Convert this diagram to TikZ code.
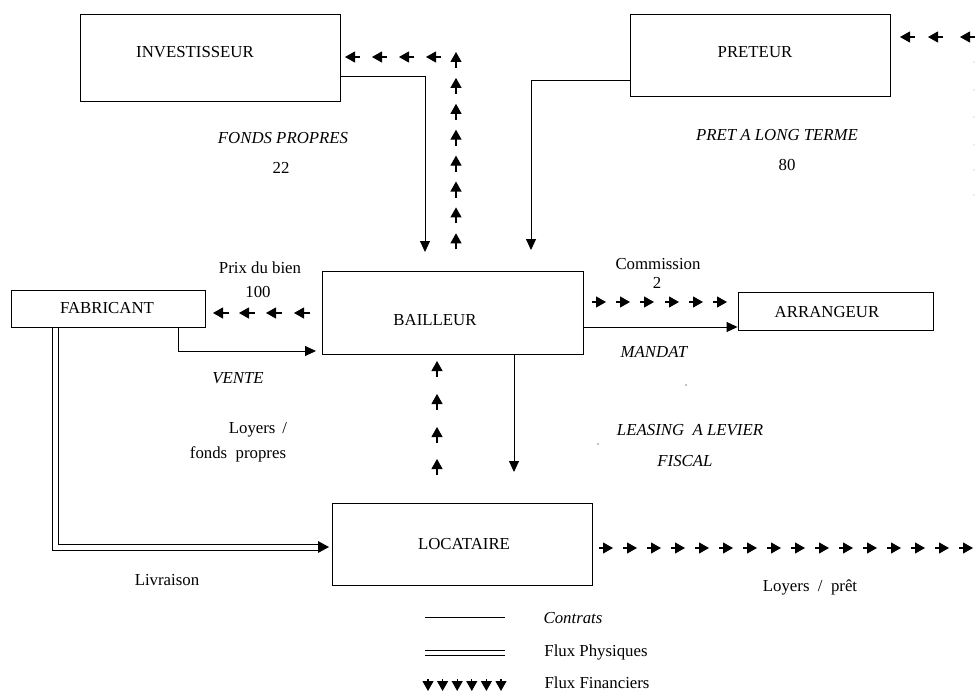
\documentclass[tikz,border=0pt]{standalone}
\usepackage{fontspec}
\setmainfont{Liberation Serif}
\usetikzlibrary{arrows.meta}
\begin{document}
\begin{tikzpicture}[x=1pt,y=-1pt,
  box/.style={draw,line width=0.9pt,inner sep=0pt},
  contract/.style={line width=0.9pt,-{Triangle[length=11pt,width=10pt]}},
  fin/.style={line width=1.1pt,-{Triangle[length=10pt,width=11pt]}},
  lbl/.style={inner sep=0pt,font=\fontsize{16.8}{19}\selectfont},
  ilbl/.style={lbl,font=\fontsize{16.8}{19}\selectfont\itshape}]
\useasboundingbox (0,0) rectangle (975,693);
% boxes
\node[box,minimum width=260pt,minimum height=87pt] (inv) at (210,57.5) {};
\node[box,minimum width=260pt,minimum height=82pt] (pret) at (760,55) {};
\node[box,minimum width=194pt,minimum height=37pt] (fab) at (108,308.5) {};
\node[box,minimum width=261pt,minimum height=83pt] (bail) at (452.5,312.5) {};
\node[box,minimum width=195pt,minimum height=38pt] (arr) at (835.5,311) {};
\node[box,minimum width=260pt,minimum height=82pt] (loc) at (462,544) {};
% box labels
\node[lbl] (tinv) at (195,52) {INVESTISSEUR};
\node[lbl] (tpret) at (755,52) {PRETEUR};
\node[lbl] (tfab) at (107,308) {FABRICANT};
\node[lbl] (tbail) at (435,320) {BAILLEUR};
\node[lbl] (tarr) at (827,312) {ARRANGEUR};
\node[lbl] (tloc) at (464,544) {LOCATAIRE};
% other labels
\node[ilbl] (l1) at (283,138) {FONDS PROPRES};
\node[lbl] (l2) at (281,168) {22};
\node[ilbl] (l3) at (777,135) {PRET A LONG TERME};
\node[lbl] (l4) at (787,165) {80};
\node[lbl] (l5) at (260,268) {Prix du bien};
\node[lbl] (l6) at (258,292) {100};
\node[lbl] (l7) at (658,264) {Commission};
\node[lbl] (l8) at (657,283) {2};
\node[ilbl] (l9) at (654,352) {MANDAT};
\node[ilbl] (l10) at (238,378) {VENTE};
\node[lbl] (l11) at (258,430) {Loyers \,/};
\node[lbl] (l12) at (238,454) {fonds \ propres};
\node[ilbl] (l13) at (690,430) {LEASING \ A LEVIER};
\node[ilbl] (l14) at (685,461) {FISCAL};
\node[lbl] (l15) at (167,580) {Livraison};
\node[lbl] (l16) at (810,587) {Loyers \ / \ prêt};
\node[ilbl] (g1) at (573,618) {Contrats};
\node[lbl] (g2) at (596,652) {Flux Physiques};
\node[lbl] (g3) at (597,683) {Flux Financiers};
% contracts
\coordinate (cinv) at (425,252);
\draw[contract] (inv.east |- 0,76) -| (cinv);
\coordinate (cpret) at (531,250);
\draw[contract] (pret.west |- 0,80) -| (cpret);
\coordinate (cvente) at (316,351);
\draw[contract] (fab.south -| 178,0) |- (cvente);
\draw[contract] (bail.east |- 0,327) -- (arr.west |- 0,327);
\coordinate (cloc) at (514,472);
\draw[contract] (bail.south -| 514,0) -- (cloc);
% physical flow
\draw[line width=0.8pt] (fab.south -| 52,0) -- (52,550) -- (320,550);
\draw[line width=0.8pt] (fab.south -| 58,0) -- (58,544) -- (320,544);
\fill (329,547) -- (318,541) -- (318,553) -- cycle;
% financial flows
\foreach \k in {0,...,7} \draw[fin] (456,{52+25.9*\k+16}) -- (456,{52+25.9*\k});
\foreach \t in {345,372,399,426} \draw[fin] (\t+15,57) -- (\t,57);
\foreach \t in {900,928,960} \draw[fin] (\t+15,37) -- (\t,37);
\foreach \t in {213,239,266,294} \draw[fin] (\t+16,313) -- (\t,313);
\foreach \t in {606,630,654,679,703,727} \draw[fin] (\t-14,302) -- (\t,302);
\foreach \t in {361,394,427,459} \draw[fin] (437,\t+16) -- (437,\t);
\foreach \k in {0,...,15} \draw[fin] ({613+24*\k-14},548) -- ({613+24*\k},548);
\foreach \y in {62,90,117,145,170,195} \fill[gray!60] (974,\y) circle (0.6);
\fill (686,385) circle (0.6);
\fill (598,444) circle (0.6);
% legend
\draw[line width=0.8pt] (425,617) -- (505,617);
\draw[line width=0.7pt] (425,650) -- (505,650);
\draw[line width=0.7pt] (425,655) -- (505,655);
\foreach \k in {0,...,5} \draw[fin] ({428+14.6*\k},679) -- ({428+14.6*\k},691);
\end{tikzpicture}
\end{document}
